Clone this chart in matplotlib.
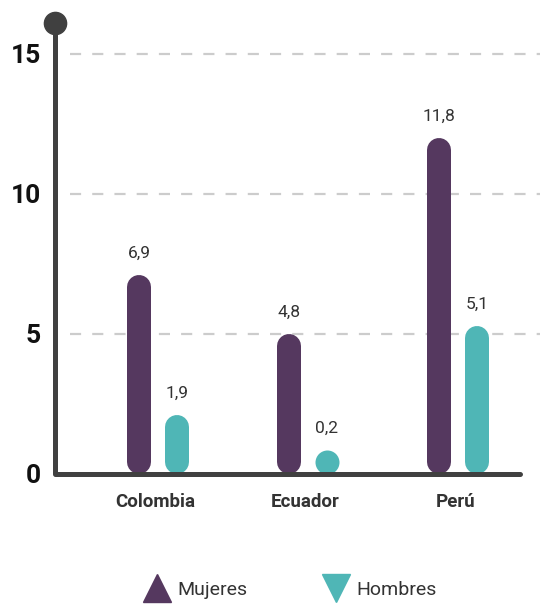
import matplotlib
matplotlib.use("Agg")
import matplotlib.pyplot as plt
from matplotlib.lines import Line2D

categories = ["Colombia", "Ecuador", "Perú"]
mujeres = [6.9, 4.8, 11.8]
hombres = [1.9, 0.2, 5.1]
yticks = [0, 5, 10, 15]
series_names = ["Mujeres", "Hombres"]

PURPLE = "#55385f"
TEAL = "#4fb6b6"
AXIS = "#404040"
TEXT = "#333333"

W, H = 540, 604
fig = plt.figure(figsize=(W / 100, H / 100), dpi=100)
px_per_unit = 28.0
y0_px = 474
ymax = 16.2
ax_left, ax_right = 55, 540
ax = fig.add_axes([ax_left / W, (H - y0_px) / H, (ax_right - ax_left) / W,
                   ymax * px_per_unit / H])
ax.set_ylim(0, ymax)
grp_px = 150.0
x0_px = 158
xl = -(x0_px - ax_left) / grp_px
xr = 2 + (ax_right - (x0_px + 2 * grp_px)) / grp_px
ax.set_xlim(xl, xr)
ax.axis("off")

# gridlines
for t in yticks[1:]:
    ax.plot([xl + 15 / grp_px, xr], [t, t], color="#cccccc", lw=1.6,
            dashes=(5, 5), zorder=1)

# axes lines
ax.plot([xl, xl], [0, 16.1], color=AXIS, lw=3.6, solid_capstyle="butt", zorder=3,
        clip_on=False)
ax.plot([xl], [16.1], "o", color=AXIS, ms=16, zorder=4, clip_on=False)
ax.plot([xl, 2 + 62 / grp_px], [0, 0], color=AXIS, lw=3.6, solid_capstyle="round",
        zorder=3, clip_on=False)

# rounded bars
lw_px = 24
lw_pt = lw_px * 0.72
r = (lw_px / 2) / px_per_unit
off = 19 / grp_px
extra = 0.2
for i in range(len(categories)):
    for val, col, dx in ((mujeres[i], PURPLE, -off), (hombres[i], TEAL, off)):
        x = i + dx
        top = max(r, val + extra - r)
        if top - r > 0.05:
            ax.plot([x, x], [r, top], color=col, lw=lw_pt,
                    solid_capstyle="round", zorder=2)
        else:
            ax.plot([x], [r], ls="", marker="o", ms=lw_pt, mew=0,
                    color=col, zorder=2)
        ax.annotate(f"{val:.1f}".replace(".", ","), xy=(x, top + r),
                    xytext=(0, 15.5), textcoords="offset points",
                    ha="center", va="center", fontsize=12.5, color=TEXT,
                    family="Roboto")
    ax.annotate(categories[i], xy=(i, 0), xytext=(-2, -20), textcoords="offset points",
                ha="center", va="center", fontsize=13.5, fontweight="bold",
                color=TEXT, family="Roboto")

for t in yticks:
    ax.annotate(str(t), xy=(xl, t), xytext=(-10, -1.5), textcoords="offset points",
                ha="right", va="center", fontsize=19, fontweight="bold",
                color="#111111", family="Roboto")

handles = [Line2D([], [], marker="^", ls="", color=PURPLE, ms=20),
           Line2D([], [], marker="v", ls="", color=TEAL, ms=20)]
fig.legend(handles, series_names, loc="center", bbox_to_anchor=(0.537, 1 - 590 / H),
           ncol=2, frameon=False, prop={"family": "Roboto", "size": 14},
           labelcolor=TEXT, handletextpad=0.3, columnspacing=3.8, handlelength=1.5)

fig.savefig("out.png", dpi=100)
